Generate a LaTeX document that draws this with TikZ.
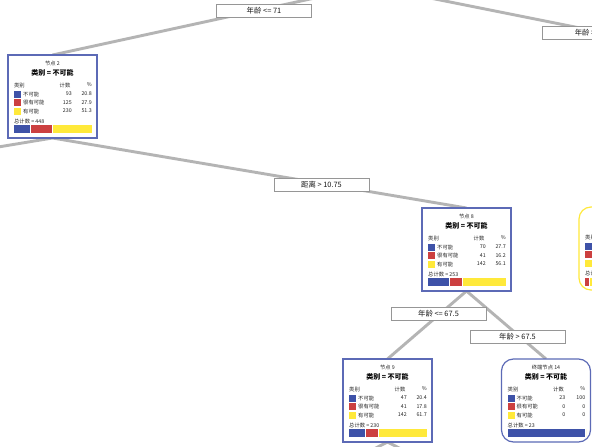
\documentclass[tikz,border=0pt]{standalone}
\usepackage{fontspec}
\setmainfont{Noto Sans CJK SC}
\usetikzlibrary{backgrounds}
\definecolor{cblue}{RGB}{62,82,168}
\definecolor{cred}{RGB}{204,64,64}
\definecolor{cyellow}{RGB}{255,233,58}
\definecolor{nodeblue}{RGB}{92,106,182}
\definecolor{linegrey}{RGB}{180,180,180}
\definecolor{lblgrey}{RGB}{150,150,150}
\tikzset{
  treebox/.style={draw=nodeblue, line width=1.2pt, fill=white, minimum width=89pt, minimum height=83pt, inner sep=0pt, outer sep=0pt},
  termbox/.style={treebox, rounded corners=12pt},
  yelbox/.style={treebox, draw=cyellow, rounded corners=12pt},
  edgeline/.style={draw=linegrey, line width=2.9pt},
  splitlbl/.style={draw=lblgrey, line width=0.6pt, fill=white, minimum width=95pt, minimum height=13pt, inner sep=0pt, text=black!90, font=\fontsize{7.4}{8}\selectfont},
  tinytxt/.style={inner sep=0pt, text=black!85, font=\fontsize{5.3}{6}\selectfont},
  ttltxt/.style={inner sep=0pt, font=\fontsize{7}{8}\selectfont\bfseries},
  sep/.style={draw=white, line width=0.6pt},
}
% #1 name, #2 title, #3 c1, #4 p1, #5 c2, #6 p2, #7 c3, #8 p3, #9 total
\newcommand\nodebody[9]{%
  \begin{scope}[shift={(#1.north west)}]
    \node[tinytxt] (#1id) at (44.5,8) {#2};
    \node[ttltxt] (#1cls) at (44.5,18) {类别 = 不可能};
    \node[tinytxt,anchor=west] (#1hA) at (6,30) {类别};
    \node[tinytxt] (#1hB) at (57,30) {计数};
    \node[tinytxt,anchor=east] (#1hC) at (84,30) {\%};
    \fill[cblue] (6,35.5) rectangle (13,42.5);
    \fill[cred] (6,44) rectangle (13,51);
    \fill[cyellow] (6,52.5) rectangle (13,59.5);
    \node[tinytxt,anchor=west] (#1rA) at (15,39) {不可能};
    \node[tinytxt,anchor=west] (#1rB) at (15,47.5) {很有可能};
    \node[tinytxt,anchor=west] (#1rC) at (15,56) {有可能};
    \node[tinytxt,anchor=east] (#1cA) at (64,39) {#3};
    \node[tinytxt,anchor=east] (#1cB) at (64,47.5) {#5};
    \node[tinytxt,anchor=east] (#1cC) at (64,56) {#7};
    \node[tinytxt,anchor=east] (#1pA) at (84,39) {#4};
    \node[tinytxt,anchor=east] (#1pB) at (84,47.5) {#6};
    \node[tinytxt,anchor=east] (#1pC) at (84,56) {#8};
    \node[tinytxt,anchor=west] (#1tot) at (6,66) {总计数 = #9};
    \fill[cblue] (6,70) rectangle ({6+0.78*#4},78);
    \fill[cred] ({6+0.78*#4},70) rectangle ({6+0.78*(#4+#6)},78);
    \fill[cyellow] ({6+0.78*(#4+#6)},70) rectangle (84,78);
    \draw[sep] ({6+0.78*#4},70) -- ++(0,8);
    \draw[sep] ({6+0.78*(#4+#6)},70) -- ++(0,8);
  \end{scope}}
\begin{document}
\begin{tikzpicture}[x=1pt,y=-1pt]
  \useasboundingbox (0,0) rectangle (592,447);
  % tree nodes
  \node[treebox] (n2) at (52.5,96.5) {};
  \node[treebox] (n8) at (466.5,249.5) {};
  \node[treebox] (n9) at (387.5,400.5) {};
  \node[termbox] (n14) at (546,400.5) {};
  \node[yelbox] (ny) at (623.5,248.5) {};
  % off-picture ends
  \coordinate (root) at (370,-14);
  \coordinate (rc) at (700,52);
  \coordinate (n2l) at (-50,155);
  \coordinate (n9l) at (368,452);
  \coordinate (n9r) at (407,452);
  \begin{pgfonlayer}{background}
    \fill[white] (0,0) rectangle (592,447);
    \draw[edgeline] (root) -- (n2.north);
    \draw[edgeline] (root) -- (rc);
    \draw[edgeline] (n2.south) -- (n2l);
    \draw[edgeline] (n2.south) -- (n8.north);
    \draw[edgeline] (n8.south) -- (n9.north);
    \draw[edgeline] (n8.south) -- (n14.north);
    \draw[edgeline] (n9.south) -- (n9l);
    \draw[edgeline] (n9.south) -- (n9r);
  \end{pgfonlayer}
  % node contents
  \nodebody{n2}{节点 2}{93}{20.8}{125}{27.9}{230}{51.3}{448}
  \nodebody{n8}{节点 8}{70}{27.7}{41}{16.2}{142}{56.1}{253}
  \nodebody{n9}{节点 9}{47}{20.4}{41}{17.8}{142}{61.7}{230}
  \nodebody{n14}{终端节点 14}{23}{100}{0}{0}{0}{0}{23}
  % partially visible yellow node
  \begin{scope}[shift={(ny.north west)}]
    \node[tinytxt,anchor=west] (nyhA) at (6,30) {类别};
    \fill[cblue] (6,35.5) rectangle (13,42.5);
    \fill[cred] (6,44) rectangle (13,51);
    \fill[cyellow] (6,52.5) rectangle (13,59.5);
    \node[tinytxt,anchor=west] (nytot) at (6,66) {总计数};
    \fill[cred] (6,71) rectangle (10,79);
    \fill[cyellow] (10,71) rectangle (84,79);
    \draw[sep] (10,71) -- ++(0,8);
  \end{scope}
  % split labels
  \node[splitlbl] (L1) at (264,10.5) {年龄 <= 71};
  \node[splitlbl] (L2) at (590,33) {年龄 > 71};
  \node[splitlbl] (L3) at (321.5,184.5) {距离 > 10.75};
  \node[splitlbl] (L4) at (438.5,314) {年龄 <= 67.5};
  \node[splitlbl] (L5) at (517.5,336.5) {年龄 > 67.5};
\end{tikzpicture}
\end{document}
